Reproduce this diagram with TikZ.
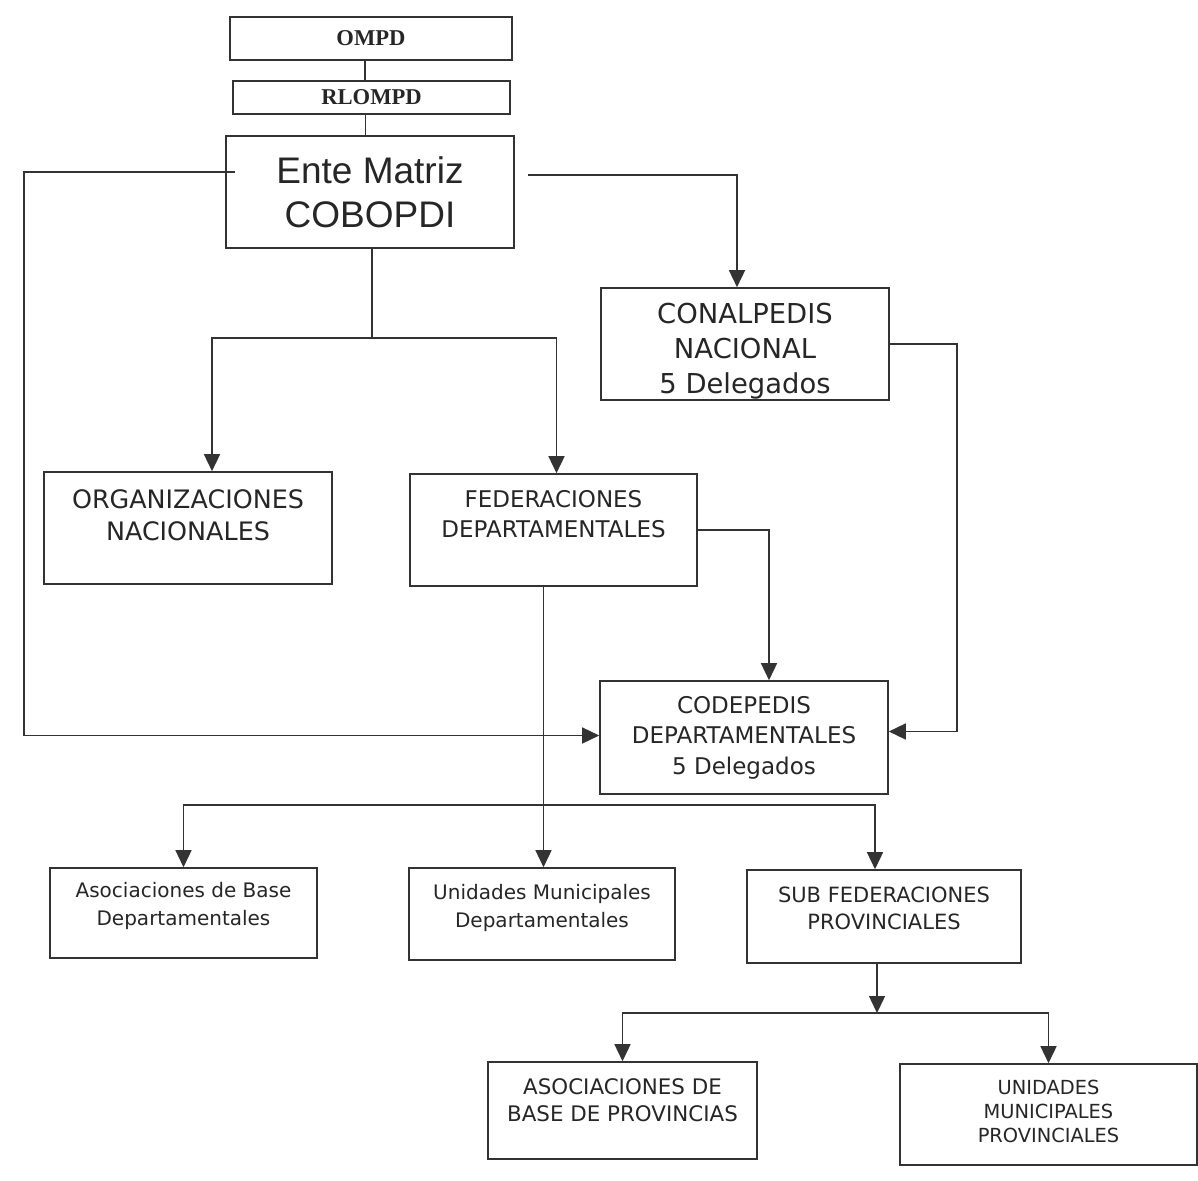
\documentclass[tikz,border=0pt]{standalone}
\usepackage{fontspec}
\setmainfont{DejaVu Sans}
\newfontfamily\timesfont{Liberation Serif}
\newfontfamily\arialfont{Liberation Sans}
\usepackage{tikz}
\usetikzlibrary{arrows.meta}

\begin{document}
\begin{tikzpicture}[x=0.5pt,y=-0.5pt,thick]
\tikzstyle{box} = [draw=black!80, line width=0.8pt, rectangle, align=center, text=black!85, inner sep=0pt]
\tikzstyle{link} = [draw=black!80, line width=0.75pt]
\tikzstyle{arr} = [link, -{Triangle[length=8.5pt,width=8pt]}]
\tikzset{lift/.style={execute at end node={\rule[-#1]{0pt}{#1}}}}
\useasboundingbox (0,0) rectangle (1198,1181);
% top of the chart
\node[box, minimum width=141pt, minimum height=21.5pt, font=\timesfont\fontsize{11.3}{13}\selectfont\bfseries] (ompd) at (371,38.5) {OMPD};
\node[box, minimum width=138.5pt, minimum height=16.5pt, font=\timesfont\fontsize{11.3}{13}\selectfont\bfseries] (rlompd) at (371.5,97.5) {RLOMPD};
\node[box, minimum width=144pt, minimum height=56pt, font=\arialfont\fontsize{18.5}{22}\selectfont] (ente) at (370,192) {Ente Matriz\\COBOPDI};
\node[box, minimum width=144pt, minimum height=56pt, font=\fontsize{13.7}{17.5}\selectfont] (conal) at (745,344) {\rule{0pt}{17pt}CONALPEDIS\\NACIONAL\\5 Delegados};
% second level
\node[box, minimum width=144pt, minimum height=56pt, font=\fontsize{12.7}{16}\selectfont, lift=13pt] (org) at (188,528) {ORGANIZACIONES\\NACIONALES};
\node[box, minimum width=143.5pt, minimum height=56pt, font=\fontsize{11.5}{15}\selectfont, lift=16pt] (fed) at (553.5,530) {FEDERACIONES\\DEPARTAMENTALES};
\node[box, minimum width=144pt, minimum height=56.5pt, font=\fontsize{11.5}{15.25}\selectfont] (codep) at (744,737.5) {CODEPEDIS\\DEPARTAMENTALES\\5 Delegados};
% departmental level
\node[box, minimum width=133.5pt, minimum height=45pt, font=\fontsize{10}{14}\selectfont, lift=9pt] (asocdep) at (183.5,913) {Asociaciones de Base\\Departamentales};
\node[box, minimum width=133pt, minimum height=46pt, font=\fontsize{10}{14}\selectfont, lift=8pt] (unidep) at (542,914) {Unidades Municipales\\Departamentales};
\node[box, minimum width=137pt, minimum height=46.5pt, font=\fontsize{10.5}{13.5}\selectfont, lift=8pt] (subfed) at (884,916.5) {SUB FEDERACIONES\\PROVINCIALES};
% provincial level
\node[box, minimum width=134.5pt, minimum height=48.5pt, font=\fontsize{10.7}{13.5}\selectfont, lift=10pt] (asocprov) at (622.5,1110.5) {ASOCIACIONES DE\\BASE DE PROVINCIAS};
\node[box, minimum width=148.5pt, minimum height=50.5pt, font=\fontsize{9.7}{12}\selectfont, lift=3pt] (uniprov) at (1048.5,1114.5) {UNIDADES\\MUNICIPALES\\PROVINCIALES};
\coordinate (split1) at (372,338);
\coordinate (bar1) at (530,805);
\coordinate (bar2) at (877,1013);
% connectors
\draw[link] ([xshift=-3pt]ompd.south) -- ([xshift=-3pt]ompd.south |- rlompd.north);
\draw[link] ([xshift=-3pt]rlompd.south) -- ([xshift=-3pt]rlompd.south |- ente.north);
\draw[arr] ([yshift=10pt,xshift=5pt]ente.west) -- ++(-211,0) |- ([yshift=1pt]codep.west);
\draw[arr, shorten <=6.5pt] ([yshift=8.5pt]ente.east) -| ([xshift=-4pt]conal.north);
\draw[link] ([xshift=1pt]ente.south) -- (split1);
\draw[arr] (split1) -| ([xshift=12pt]org.north);
\draw[arr] (split1) -| ([xshift=1.5pt]fed.north);
\draw[arr] (conal.east) -- ++(67,0) |- ([yshift=3pt]codep.east);
\draw[arr] (fed.east) -| ([xshift=12.5pt]codep.north);
\draw[arr] ([xshift=-5pt]fed.south) -- ([xshift=-5pt]fed.south |- unidep.north);
\draw[arr] (bar1) -| (asocdep.north);
\draw[arr] (bar1) -| ([xshift=-4.5pt]subfed.north);
\draw[arr] ([xshift=-3.5pt]subfed.south) -- (bar2);
\draw[arr] (bar2) -| (asocprov.north);
\draw[arr] (bar2) -| (uniprov.north);
\end{tikzpicture}
\end{document}
